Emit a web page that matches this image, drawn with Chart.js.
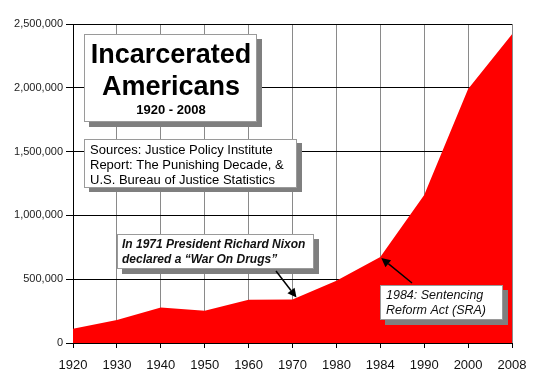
<!DOCTYPE html>
<html>
<head>
<meta charset="utf-8">
<script src="https://cdn.jsdelivr.net/npm/chart.js@4"></script>
<style>
  html, body { margin: 0; padding: 0; background: #fff; }
  #wrap { width: 540px; height: 378px; position: relative; }
</style>
</head>
<body>
<div id="wrap"><canvas id="c" width="540" height="378"></canvas></div>
<script>
const years = ['1920', '1930', '1940', '1950', '1960', '1970', '1980', '1984', '1990', '2000', '2008'];
const incarcerated = [112000, 180000, 278000, 252000, 338000, 340000, 488000, 674000, 1160000, 1990000, 2420000];
const yTicks = [0, 500000, 1000000, 1500000, 2000000, 2500000];

const FONT = "Arial, 'Liberation Sans', sans-serif";

function box(ctx, x, y, w, h, dx, dy) {
  ctx.fillStyle = '#7f7f7f';
  ctx.fillRect(x + dx, y + dy, w, h);
  ctx.fillStyle = '#ffffff';
  ctx.fillRect(x, y, w, h);
  ctx.strokeStyle = '#9a9a9a';
  ctx.lineWidth = 1;
  ctx.strokeRect(x + 0.5, y + 0.5, w - 1, h - 1);
}

function arrow(ctx, x1, y1, x2, y2) {
  const ang = Math.atan2(y2 - y1, x2 - x1);
  const hl = 9, hw = 4.5;
  const bx = x2 - hl * Math.cos(ang), by = y2 - hl * Math.sin(ang);
  ctx.strokeStyle = '#000';
  ctx.lineWidth = 1.5;
  ctx.beginPath();
  ctx.moveTo(x1, y1);
  ctx.lineTo(bx, by);
  ctx.stroke();
  ctx.fillStyle = '#000';
  ctx.beginPath();
  ctx.moveTo(x2, y2);
  ctx.lineTo(bx + hw * Math.sin(ang), by - hw * Math.cos(ang));
  ctx.lineTo(bx - hw * Math.sin(ang), by + hw * Math.cos(ang));
  ctx.closePath();
  ctx.fill();
}

const annotations = {
  id: 'annotations',
  afterDatasetsDraw(chart) {
    const ctx = chart.ctx;
    const xs = chart.scales.x, ys = chart.scales.y;
    ctx.save();
    ctx.textBaseline = 'alphabetic';

    // Title box
    box(ctx, 84, 34, 173, 88, 5, 5);
    ctx.fillStyle = '#000';
    ctx.textAlign = 'center';
    ctx.font = 'bold 27px ' + FONT;
    ctx.fillText('Incarcerated', 171, 63);
    ctx.fillText('Americans', 171, 95);
    ctx.font = 'bold 13px ' + FONT;
    ctx.fillText('1920 - 2008', 171, 114);

    // Sources box
    box(ctx, 84, 139, 213, 49, 5, 4);
    ctx.fillStyle = '#000';
    ctx.textAlign = 'left';
    ctx.font = '13px ' + FONT;
    ctx.fillText('Sources: Justice Policy Institute', 90, 154);
    ctx.fillText('Report: The Punishing Decade, &', 90, 169);
    ctx.fillText('U.S. Bureau of Justice Statistics', 90, 184);

    // Nixon box
    box(ctx, 117, 234, 197, 35, 5, 5);
    ctx.fillStyle = '#111';
    ctx.font = 'italic bold 12px ' + FONT;
    ctx.fillText('In 1971 President Richard Nixon', 122, 248);
    ctx.fillText('declared a \u201CWar On Drugs\u201D', 122, 263);

    // Nixon arrow to 1970 point
    const i70 = years.indexOf('1970');
    const px70 = xs.getPixelForValue(i70), py70 = ys.getPixelForValue(incarcerated[i70]);
    arrow(ctx, 276, 271, px70 + 4, py70 - 2);

    // SRA box
    box(ctx, 380, 285, 123, 35, 5, 5);
    ctx.fillStyle = '#111';
    ctx.font = 'italic 12.5px ' + FONT;
    ctx.fillText('1984: Sentencing', 386, 299);
    ctx.fillText('Reform Act (SRA)', 386, 314);

    // SRA arrow to 1984 point
    const i84 = years.indexOf('1984');
    const px84 = xs.getPixelForValue(i84), py84 = ys.getPixelForValue(incarcerated[i84]);
    arrow(ctx, 412, 283, px84 + 1, py84 + 1);

    ctx.restore();
  }
};

new Chart(document.getElementById('c'), {
  type: 'line',
  data: {
    labels: years,
    datasets: [{
      data: incarcerated,
      backgroundColor: '#ff0000',
      borderColor: '#ff0000',
      borderWidth: 0,
      fill: 'origin',
      tension: 0,
      pointRadius: 0
    }]
  },
  options: {
    responsive: false,
    animation: false,
    devicePixelRatio: 1,
    layout: { padding: { left: 0, right: 28, top: 24, bottom: 0 } },
    plugins: { legend: { display: false }, tooltip: { enabled: false }, title: { display: false } },
    scales: {
      x: {
        offset: false,
        afterFit(scale) { scale.height = 35; },
        grid: { color: (c) => c.index === 0 ? '#000' : '#8a8a8a', lineWidth: 1, tickLength: 5, tickColor: '#000', drawTicks: true },
        border: { color: '#000', width: 1 },
        ticks: { autoSkip: false, maxRotation: 0, padding: 10, color: '#111', font: { family: FONT, size: 13 } }
      },
      y: {
        min: 0,
        max: 2500000,
        afterFit(scale) { scale.width = 73; },
        afterBuildTicks(scale) { scale.ticks = yTicks.map(v => ({ value: v })); },
        grid: { color: '#000', lineWidth: 1, tickLength: 7, tickColor: '#000' },
        border: { color: '#000', width: 1 },
        ticks: { padding: 3, color: '#222', font: { family: FONT, size: 11 },
          callback: (v) => Number(v).toLocaleString('en-US') }
      }
    }
  },
  plugins: [annotations]
});
</script>
</body>
</html>
